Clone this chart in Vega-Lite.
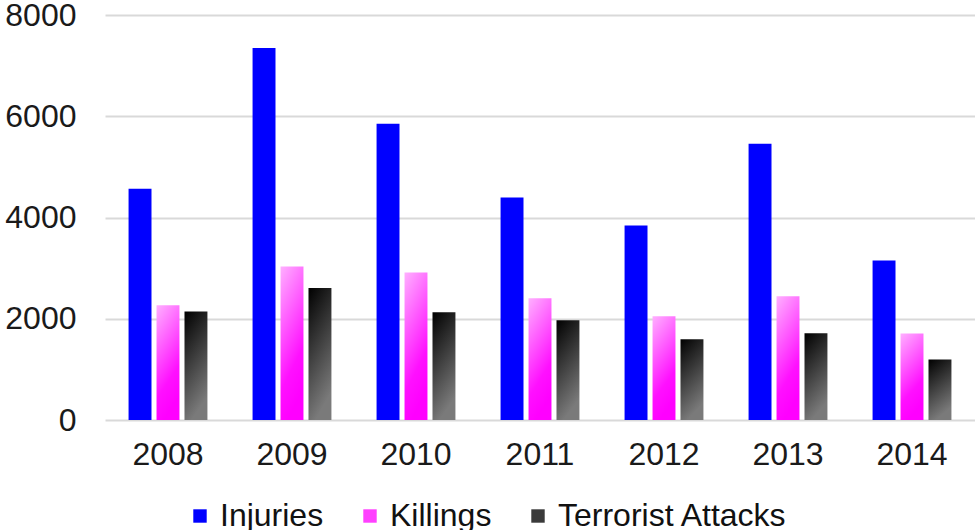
{
  "$schema": "https://vega.github.io/schema/vega-lite/v6.json",
  "width": 870,
  "height": 405,
  "autosize": "none",
  "padding": {"left": 105, "top": 15, "right": 0, "bottom": 110},
  "background": "white",
  "config": {
    "view": {"stroke": null},
    "font": "Liberation Sans"
  },
  "data": {
    "values": [
      {"year": "2008", "series": "Injuries", "count": 4570},
      {"year": "2008", "series": "Killings", "count": 2266},
      {"year": "2008", "series": "Terrorist Attacks", "count": 2141},
      {"year": "2009", "series": "Injuries", "count": 7350},
      {"year": "2009", "series": "Killings", "count": 3034},
      {"year": "2009", "series": "Terrorist Attacks", "count": 2608},
      {"year": "2010", "series": "Injuries", "count": 5852},
      {"year": "2010", "series": "Killings", "count": 2916},
      {"year": "2010", "series": "Terrorist Attacks", "count": 2128},
      {"year": "2011", "series": "Injuries", "count": 4394},
      {"year": "2011", "series": "Killings", "count": 2404},
      {"year": "2011", "series": "Terrorist Attacks", "count": 1970},
      {"year": "2012", "series": "Injuries", "count": 3842},
      {"year": "2012", "series": "Killings", "count": 2049},
      {"year": "2012", "series": "Terrorist Attacks", "count": 1596},
      {"year": "2013", "series": "Injuries", "count": 5458},
      {"year": "2013", "series": "Killings", "count": 2443},
      {"year": "2013", "series": "Terrorist Attacks", "count": 1714},
      {"year": "2014", "series": "Injuries", "count": 3153},
      {"year": "2014", "series": "Killings", "count": 1708},
      {"year": "2014", "series": "Terrorist Attacks", "count": 1196}
    ]
  },
  "mark": {"type": "bar"},
  "encoding": {
    "x": {
      "field": "year",
      "type": "nominal",
      "scale": {"paddingInner": 0.364, "paddingOuter": 0.19},
      "axis": {
        "title": null,
        "labelAngle": 0,
        "labelFontSize": 32,
        "labelColor": "#1a1a1a",
        "labelPadding": 19,
        "ticks": false,
        "domain": false
      }
    },
    "xOffset": {
      "field": "series",
      "type": "nominal",
      "sort": ["Injuries", "Killings", "Terrorist Attacks"],
      "scale": {"paddingInner": 0.18, "paddingOuter": 0}
    },
    "y": {
      "field": "count",
      "type": "quantitative",
      "scale": {"domain": [0, 8000]},
      "axis": {
        "title": null,
        "values": [0, 2000, 4000, 6000, 8000],
        "format": "d",
        "labelFontSize": 32,
        "labelColor": "#1a1a1a",
        "labelPadding": 29,
        "ticks": false,
        "domain": false,
        "gridColor": "#d9d9d9",
        "gridWidth": 2
      }
    },
    "color": {
      "condition": [
        {"test": "datum.series === 'Killings'", "value": {"gradient": "linear", "x1": 0, "y1": 0, "x2": 0.3, "y2": 1, "stops": [{"offset": 0, "color": "#ffb0ff"}, {"offset": 0.75, "color": "#ff10ff"}, {"offset": 1, "color": "#ff00ff"}]}},
        {"test": "datum.series === 'Terrorist Attacks'", "value": {"gradient": "linear", "x1": 0, "y1": 0, "x2": 0.3, "y2": 1, "stops": [{"offset": 0, "color": "#000000"}, {"offset": 1, "color": "#7a7a7a"}]}}
      ],
      "field": "series",
      "type": "nominal",
      "sort": ["Injuries", "Killings", "Terrorist Attacks"],
      "scale": {
        "domain": ["Injuries", "Killings", "Terrorist Attacks"],
        "range": ["#0000ff", "#ff40ff", "#3a3a3a"]
      },
      "legend": {
        "title": null,
        "orient": "none",
        "direction": "horizontal",
        "legendX": 79,
        "legendY": 485,
        "labelFontSize": 32,
        "labelColor": "#111111",
        "labelLimit": 0,
        "symbolType": "square",
        "symbolSize": 180,
        "symbolStrokeWidth": 0,
        "columnPadding": 30,
        "labelOffset": 4,
        "encode": {
          "symbols": {
            "update": {
              "fill": {"signal": "datum.value === 'Killings' ? {gradient: 'linear', x1: 0, y1: 0, x2: 0.4, y2: 1, stops: [{offset: 0, color: '#ffb0ff'}, {offset: 1, color: '#ff00ff'}]} : datum.value === 'Terrorist Attacks' ? {gradient: 'linear', x1: 0, y1: 0, x2: 1, y2: 0, stops: [{offset: 0, color: '#222222'}, {offset: 1, color: '#9a9a9a'}]} : '#0000ff'"}
            }
          }
        }
      }
    }
  }
}
